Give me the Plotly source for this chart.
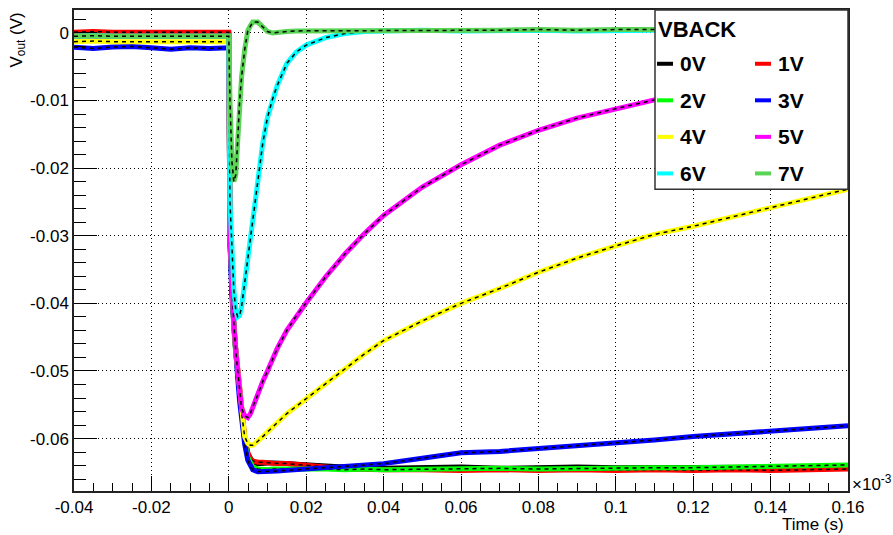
import plotly.graph_objects as go

# ---------------- data ----------------
time_ms = [-0.04, -0.035, -0.03, -0.025, -0.02, -0.015, -0.01, -0.005, 0.0,
           0.0003, 0.0008, 0.0013, 0.0018, 0.0023, 0.0028, 0.0033, 0.0041, 0.0049, 0.0056,
           0.0062, 0.0075, 0.0088, 0.01, 0.0113, 0.0125, 0.015, 0.0175, 0.02, 0.025,
           0.03, 0.035, 0.04, 0.05, 0.06, 0.07, 0.08, 0.09, 0.1, 0.11, 0.12, 0.13,
           0.14, 0.15, 0.16]

v_0V = [-0.0002, -0.0001, -0.0002, -0.0001, -0.0002, -0.0002, -0.0001, -0.0002, -0.0002,
        -0.031, -0.039, -0.0435, -0.0472, -0.0503, -0.0537, -0.0566, -0.0601, -0.0622, -0.0631,
        -0.0635, -0.0637, -0.0636, -0.0636, -0.0636, -0.0636, -0.0637, -0.0638, -0.0639, -0.0641,
        -0.0643, -0.0644, -0.0644, -0.0643, -0.0642, -0.0644, -0.0643, -0.0642, -0.0643, -0.0643,
        -0.0642, -0.0643, -0.0642, -0.0642, -0.0641]
v_1V = [0.0001, 0.0002, 0.0001, 0.0001, 0.0002, 0.0001, 0.0001, 0.0002, 0.0001,
        -0.029, -0.038, -0.043, -0.0468, -0.0500, -0.0533, -0.0562, -0.0597, -0.0620, -0.0630,
        -0.0633, -0.0635, -0.0635, -0.0636, -0.0636, -0.0637, -0.0637, -0.0638, -0.0639, -0.0642,
        -0.0645, -0.0646, -0.0646, -0.0646, -0.0647, -0.0646, -0.0647, -0.0646, -0.0647, -0.0646,
        -0.0647, -0.0646, -0.0647, -0.0646, -0.0645]
v_2V = [-0.0005, -0.0004, -0.0005, -0.0005, -0.0004, -0.0005, -0.0005, -0.0004, -0.0005,
        -0.030, -0.0385, -0.0435, -0.0475, -0.0505, -0.0538, -0.0568, -0.0604, -0.0628, -0.0638,
        -0.0642, -0.0645, -0.0646, -0.0646, -0.0645, -0.0645, -0.0645, -0.0645, -0.0644, -0.0645,
        -0.0646, -0.0645, -0.0646, -0.0645, -0.0645, -0.0644, -0.0645, -0.0644, -0.0644, -0.0643,
        -0.0643, -0.0642, -0.0641, -0.0640, -0.0639]
v_3V = [-0.0021, -0.0023, -0.0021, -0.0020, -0.0022, -0.0024, -0.0022, -0.0023, -0.0022,
        -0.031, -0.039, -0.044, -0.048, -0.051, -0.0545, -0.0575, -0.0608, -0.0632, -0.0642,
        -0.0646, -0.0649, -0.0649, -0.0648, -0.0648, -0.0648, -0.0647, -0.0646, -0.0645, -0.0643,
        -0.0641, -0.0639, -0.0637, -0.0629, -0.0621, -0.0619, -0.0615, -0.0611, -0.0606, -0.0602,
        -0.0597, -0.0593, -0.0588, -0.0585, -0.0581]
v_4V = [-0.0013, -0.0012, -0.0013, -0.0013, -0.0012, -0.0013, -0.0013, -0.0012, -0.0013,
        -0.030, -0.038, -0.043, -0.047, -0.050, -0.0533, -0.0562, -0.0597, -0.0607, -0.0610,
        -0.0610, -0.0604, -0.0597, -0.0590, -0.0583, -0.0576, -0.0563, -0.0552, -0.0541, -0.0519,
        -0.0496, -0.0475, -0.0455, -0.0426, -0.0400, -0.0378, -0.0354, -0.0333, -0.0315, -0.0298,
        -0.0286, -0.0272, -0.0258, -0.0244, -0.0231]
v_5V = [-0.0005, -0.0004, -0.0005, -0.0005, -0.0004, -0.0005, -0.0005, -0.0004, -0.0005,
        -0.030, -0.038, -0.043, -0.047, -0.050, -0.0532, -0.0555, -0.0566, -0.0569, -0.0563,
        -0.0553, -0.0535, -0.0515, -0.0500, -0.0482, -0.0467, -0.0440, -0.0418, -0.0399, -0.0361,
        -0.0327, -0.0297, -0.0270, -0.0228, -0.0195, -0.0166, -0.0144, -0.0126, -0.0112, -0.0099,
        -0.0088, -0.0078, -0.0069, -0.0060, -0.0052]
v_6V = [-0.0005, -0.0004, -0.0005, -0.0005, -0.0004, -0.0005, -0.0005, -0.0004, -0.0005,
        -0.025, -0.033, -0.038, -0.041, -0.042, -0.0418, -0.0405, -0.037, -0.0335, -0.030,
        -0.0272, -0.0222, -0.0162, -0.0125, -0.0098, -0.0078, -0.0045, -0.0028, -0.0018, -0.0007,
        -0.0001, 0.0002, 0.0003, 0.0004, 0.0003, 0.0004, 0.0004, 0.0003, 0.0004, 0.0004,
        0.0004, 0.0004, 0.0004, 0.0004, 0.0004]
v_7V = [-0.0005, -0.0004, -0.0005, -0.0005, -0.0004, -0.0005, -0.0005, -0.0004, -0.0005,
        -0.010, -0.019, -0.022, -0.021, -0.016, -0.010, -0.0065, -0.0025, 0.0003, 0.0011,
        0.0016, 0.0016, 0.0008, 0.0002, 0.0000, 0.0001, 0.0002, 0.0003, 0.0003, 0.0003,
        0.0003, 0.0004, 0.0004, 0.0004, 0.0004, 0.0004, 0.0005, 0.0004, 0.0005, 0.0005,
        0.0005, 0.0005, 0.0005, 0.0005, 0.0005]

series_names = ["0V", "1V", "2V", "3V", "4V", "5V", "6V", "7V"]
series_values = [v_0V, v_1V, v_2V, v_3V, v_4V, v_5V, v_6V, v_7V]
series_colors = ["#000000", "#ff0000", "#00ff00", "#0000ff",
                 "#ffff00", "#ff00ff", "#00ffff", "#59d454"]

x_tick_vals = [-0.04, -0.02, 0, 0.02, 0.04, 0.06, 0.08, 0.1, 0.12, 0.14, 0.16]
x_tick_text = ["-0.04", "-0.02", "0", "0.02", "0.04", "0.06", "0.08", "0.1", "0.12", "0.14", "0.16"]
y_tick_vals = [0, -0.01, -0.02, -0.03, -0.04, -0.05, -0.06]
y_tick_text = ["0", "-0.01", "-0.02", "-0.03", "-0.04", "-0.05", "-0.06"]

# ---------------- layout constants ----------------
W, H = 893, 535
PL, PR, PT, PB = 74, 848, 8, 491
FONT = "Liberation Sans, Arial, Helvetica, sans-serif"


def px_x(x):
    return (x - PL) / (PR - PL)


def px_y(y):
    return (PB - y) / (PB - PT)


fig = go.Figure()
for name, vals, col in zip(series_names, series_values, series_colors):
    fig.add_trace(go.Scatter(x=time_ms, y=vals, mode="lines", name=name,
                             line=dict(color=col, width=5), showlegend=False,
                             hoverinfo="skip"))
    fig.add_trace(go.Scatter(x=time_ms, y=vals, mode="lines", name=name + " fit",
                             line=dict(color="black", width=1.5, dash="4px,4px"),
                             showlegend=False, hoverinfo="skip"))

axis_common = dict(
    showline=True, linecolor="#222222", linewidth=1.5, mirror=True,
    showgrid=True, gridcolor="black", gridwidth=1, griddash="1px,3px",
    zeroline=False, ticks="inside", tickcolor="black", tickwidth=1,
    tickfont=dict(family=FONT, size=17, color="black"),
)

fig.update_xaxes(range=[-0.04, 0.16], tickmode="array", tickvals=x_tick_vals,
                 ticktext=x_tick_text, ticklen=15,
                 minor=dict(dtick=0.005, tick0=0, ticks="inside", ticklen=8,
                            tickcolor="black", showgrid=False),
                 **axis_common)
fig.update_yaxes(range=[-0.06775, 0.00339], tickmode="array", tickvals=y_tick_vals,
                 ticktext=y_tick_text, ticklen=23,
                 minor=dict(dtick=0.002, tick0=0, ticks="inside", ticklen=12,
                            tickcolor="black", showgrid=False),
                 **axis_common)

shapes = []
annotations = []

# legend box
shapes.append(dict(type="rect", xref="paper", yref="paper",
                   x0=px_x(655), x1=px_x(848), y0=px_y(188), y1=px_y(8),
                   fillcolor="white", line=dict(color="#333333", width=1.5), layer="above"))
annotations.append(dict(xref="paper", yref="paper", x=px_x(656), y=px_y(28),
                        xanchor="left", yanchor="middle", showarrow=False,
                        text="<b>VBACK</b>", font=dict(family=FONT, size=22, color="black")))
for i, (name, col) in enumerate(zip(series_names, series_colors)):
    row, c = i // 2, i % 2
    yy = 62 + 36.7 * row
    x0 = 657 + 98 * c
    shapes.append(dict(type="line", xref="paper", yref="paper",
                       x0=px_x(x0), x1=px_x(x0 + 16), y0=px_y(yy), y1=px_y(yy),
                       line=dict(color=col, width=4), layer="above"))
    annotations.append(dict(xref="paper", yref="paper", x=px_x(x0 + 21), y=px_y(yy),
                            xanchor="left", yanchor="middle", showarrow=False,
                            text="<b>%s</b>" % name,
                            font=dict(family=FONT, size=21, color="black")))

# axis titles
annotations.append(dict(xref="paper", yref="paper", x=px_x(846), y=px_y(525),
                        xanchor="right", yanchor="middle", showarrow=False,
                        text="Time (s)", font=dict(family=FONT, size=17, color="black")))
annotations.append(dict(xref="paper", yref="paper", x=px_x(17), y=1.0,
                        xanchor="center", yanchor="top", showarrow=False, textangle=-90,
                        text="V<sub>out</sub> (V)", font=dict(family=FONT, size=17, color="black")))
annotations.append(dict(xref="paper", yref="paper", x=px_x(850), y=px_y(483),
                        xanchor="left", yanchor="middle", showarrow=False,
                        text="×10<sup>-3</sup>", font=dict(family=FONT, size=17, color="black")))

fig.update_layout(width=W, height=H, autosize=False,
                  margin=dict(l=PL, r=W - PR, t=PT, b=H - PB, pad=0),
                  paper_bgcolor="white", plot_bgcolor="white",
                  shapes=shapes, annotations=annotations,
                  font=dict(family=FONT, size=17, color="black"))

fig.write_html("out.html")
